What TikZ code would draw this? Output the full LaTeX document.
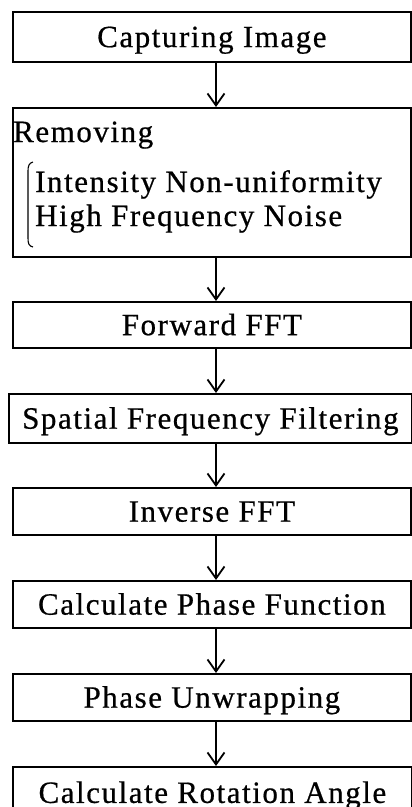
\documentclass[tikz,border=0pt]{standalone}
\usepackage{fontspec}
\setmainfont{Liberation Serif}[LetterSpace=5,FakeBold=0.6]
\usetikzlibrary{arrows.meta}
\begin{document}
\begin{tikzpicture}[x=1pt,y=-1pt,
  stepbox/.style={draw, line width=1.8pt, inner sep=0pt, anchor=north west,
    font=\fontsize{31}{36}\selectfont, text height=28pt, text depth=7.5pt},
  plain/.style={inner sep=0pt, font=\fontsize{31}{36}\selectfont, anchor=base west},
  flow/.style={line width=1.8pt, -{Straight Barb[length=12pt,width=17pt,line width=1.8pt]}}]
\useasboundingbox (0,0) rectangle (412,807);
\fill[white] (0,0) rectangle (412,807);
% process steps
\node[stepbox, minimum width=398pt, minimum height=50pt] (cap) at (12,11) {Capturing Image};
\node[stepbox, minimum width=398pt, minimum height=149pt] (rem) at (12,107) {};
\node[stepbox, minimum width=398pt, minimum height=46pt] (fwd) at (12,301) {Forward FFT};
\node[stepbox, minimum width=403pt, minimum height=49pt] (spa) at (8,393) {Spatial Frequency Filtering};
\node[stepbox, minimum width=398pt, minimum height=47pt] (inv) at (12,487) {Inverse FFT};
\node[stepbox, minimum width=398pt, minimum height=47pt] (cpf) at (12,580) {Calculate Phase Function};
\node[stepbox, minimum width=398pt, minimum height=47pt] (pu) at (12,673) {Phase Unwrapping};
\node[stepbox, minimum width=399pt, minimum height=72pt, text height=8pt, text depth=8pt] (cra) at (12,766) {Calculate Rotation Angle};
% contents of the pre-processing step
\node[plain] (r0) at (13,142) {Removing};
\node[plain] (r1) at (35,192) {Intensity Non-uniformity};
\node[plain] (r2) at (35,226) {High Frequency Noise};
\draw[line width=1.1pt] (33,162) .. controls (29,163) and (28,166) .. (28,171)
  -- (28,238) .. controls (28,244) and (29,246) .. (33,247);
% connectors
\draw[flow] (cap.south -| 216,0) -- (rem.north -| 216,0);
\draw[flow] (rem.south -| 216,0) -- (fwd.north -| 216,0);
\draw[flow] (fwd.south -| 216,0) -- (spa.north -| 216,0);
\draw[flow] (spa.south -| 216,0) -- (inv.north -| 216,0);
\draw[flow] (inv.south -| 216,0) -- (cpf.north -| 216,0);
\draw[flow] (cpf.south -| 216,0) -- (pu.north -| 216,0);
\draw[flow] (pu.south -| 216,0) -- (cra.north -| 216,0);
\end{tikzpicture}
\end{document}
